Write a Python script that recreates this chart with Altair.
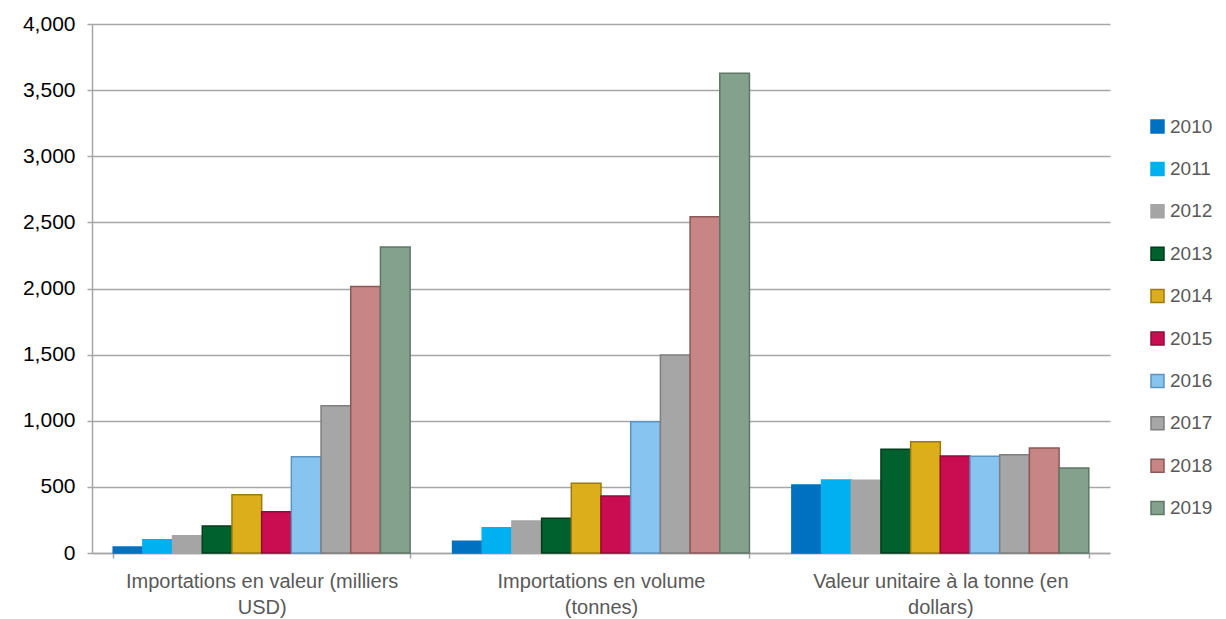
import altair as alt
import pandas as pd
import json

years = ["2010", "2011", "2012", "2013", "2014", "2015", "2016", "2017", "2018", "2019"]
categories = [
    "Importations en valeur (milliers USD)",
    "Importations en volume (tonnes)",
    "Valeur unitaire à la tonne (en dollars)",
]
label_lines = [
    ["Importations en valeur (milliers", "USD)"],
    ["Importations en volume", "(tonnes)"],
    ["Valeur unitaire à la tonne (en", "dollars)"],
]
valeur = [45, 100, 130, 205, 440, 312, 728, 1114, 2015, 2314]
volume = [88, 191, 242, 262, 527, 431, 993, 1497, 2543, 3627]
unitaire = [514, 552, 550, 784, 842, 733, 731, 743, 794, 643]
y_ticks = [0, 500, 1000, 1500, 2000, 2500, 3000, 3500, 4000]

fill_colors = ["#0070C0", "#00B0F0", "#A5A5A5", "#00612E", "#DDAE1C",
               "#C90D50", "#87C4F0", "#A6A6A6", "#C88585", "#84A18D"]
stroke_colors = ["#0070C0", "#00B0F0", "#A5A5A5", "#003D1C", "#9C7A10",
                 "#930A3A", "#5E94C2", "#7F7F7F", "#8C5858", "#5F7765"]

rows = []
for cat, vals in zip(categories, [valeur, volume, unitaire]):
    for yr, v in zip(years, vals):
        rows.append({"cat": cat, "year": yr, "value": v})
df = pd.DataFrame(rows)

expr = "''"
for cat, lines in zip(reversed(categories), reversed(label_lines)):
    expr = f"datum.value == {json.dumps(cat)} ? {json.dumps(lines)} : ({expr})"

FONT = "Liberation Sans"

legend_spec = dict(
    title=None, orient="none", legendX=1056, legendY=93,
    symbolType="square", symbolSize=169, symbolStrokeWidth=1.5,
    labelFontSize=19, labelFont=FONT, labelColor="#595959",
    rowPadding=22.4, labelOffset=3, padding=0, labelLimit=200,
)

chart = alt.Chart(df).mark_bar(strokeWidth=1.5).encode(
    x=alt.X("cat:N", sort=categories,
            scale=alt.Scale(paddingInner=0.125, paddingOuter=0.0625),
            axis=alt.Axis(title=None, labelAngle=0, labelExpr=expr,
                          labelFontSize=20, labelFont=FONT, labelColor="#595959",
                          labelLineHeight=26, labelPadding=13, labelLimit=500,
                          labelBaseline="top",
                          tickSize=5, tickBand="extent", tickColor="#A6A6A6",
                          tickWidth=1.5, domainColor="#A6A6A6", domainWidth=1.5,
                          grid=False)),
    xOffset=alt.XOffset("year:N", sort=years,
                        scale=alt.Scale(paddingInner=0, paddingOuter=0)),
    y=alt.Y("value:Q", scale=alt.Scale(domain=[0, 4000], nice=False),
            axis=alt.Axis(title=None, values=y_ticks, format=",.0f",
                          labelFontSize=21, labelFont=FONT, labelColor="#000000",
                          labelPadding=12, tickSize=5, tickColor="#A6A6A6",
                          tickWidth=1.5, domainColor="#A6A6A6", domainWidth=1.5,
                          gridColor="#A6A6A6", gridWidth=1.5)),
    fill=alt.Fill("year:N", scale=alt.Scale(domain=years, range=fill_colors),
                  legend=alt.Legend(**legend_spec)),
    stroke=alt.Stroke("year:N", scale=alt.Scale(domain=years, range=stroke_colors),
                      legend=alt.Legend(**legend_spec)),
).properties(
    width=1018, height=529,
    autosize=alt.AutoSizeParams(type="none"),
    padding={"left": 84, "top": 16, "right": 108, "bottom": 66},
).configure_view(stroke=None)

chart.save("out.html", embed_options={"renderer": "svg", "actions": False})
